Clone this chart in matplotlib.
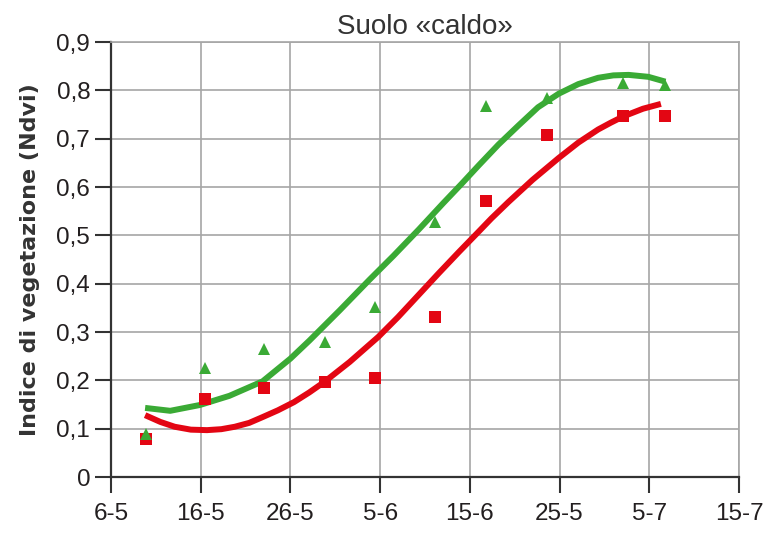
import matplotlib.pyplot as plt
from matplotlib.ticker import FuncFormatter

# giorni dal 6 maggio
x_tick_labels = ['6-5', '16-5', '26-5', '5-6', '15-6', '25-5', '5-7', '15-7']

day_pts = [3.9, 10.5, 17.1, 23.8, 29.4, 36.1, 41.8, 48.6, 57.1, 61.8]
green_pts = [0.090, 0.226, 0.265, 0.280, 0.352, 0.528, 0.768, 0.785, 0.816, 0.812]
red_pts = [0.079, 0.161, 0.184, 0.197, 0.205, 0.331, 0.571, 0.708, 0.747, 0.747]

# trend lines
green_curve_x = [3.8, 6.6, 9.9, 13.2, 16.9, 20.0, 22.1, 25.5, 28.8, 31.5, 34.3, 37.0,
                 39.1, 41.0, 43.2, 45.4, 47.6, 49.9, 52.1, 54.3, 56.0, 57.7, 59.9, 61.8]
green_curve_y = [0.143, 0.137, 0.149, 0.168, 0.198, 0.245, 0.282, 0.345, 0.408, 0.458,
                 0.512, 0.566, 0.607, 0.645, 0.688, 0.727, 0.765, 0.793, 0.813, 0.826,
                 0.831, 0.832, 0.828, 0.818]
red_curve_x = [3.8, 5.5, 7.1, 8.9, 10.7, 12.3, 13.8, 15.4, 16.9, 18.6, 20.4, 22.1, 23.8,
               26.6, 29.8, 32.0, 34.3, 36.5, 38.8, 41.0, 42.4, 44.3, 47.0, 49.9, 52.1,
               54.3, 55.7, 57.1, 59.3, 61.3]
red_curve_y = [0.128, 0.114, 0.104, 0.098, 0.097, 0.099, 0.104, 0.112, 0.124, 0.138,
               0.155, 0.175, 0.197, 0.238, 0.290, 0.331, 0.377, 0.421, 0.466, 0.508,
               0.535, 0.569, 0.615, 0.660, 0.692, 0.719, 0.733, 0.746, 0.762, 0.772]

green = '#3aaa35'
red = '#e30613'
font = ['Liberation Sans', 'DejaVu Sans']

fig = plt.figure(figsize=(7.72, 5.34), dpi=100)
ax = fig.add_axes([0.1438, 0.1067, 0.8134, 0.8146])

ax.plot(green_curve_x, green_curve_y, color=green, lw=4.3, solid_capstyle='butt', zorder=3)
ax.plot(red_curve_x, red_curve_y, color=red, lw=4.3, solid_capstyle='butt', zorder=3)
ax.plot(day_pts, red_pts, 's', color=red, ms=8.5, mew=0, zorder=4)
ax.plot(day_pts, green_pts, '^', color=green, ms=8, mew=0, zorder=5)

ax.set_xlim(0, 70)
ax.set_ylim(0, 0.9)
ax.set_xticks(range(0, 71, 10))
ax.set_xticklabels(x_tick_labels)
ax.set_yticks([i / 10 for i in range(10)])
ax.yaxis.set_major_formatter(FuncFormatter(lambda v, p: '0' if v == 0 else f'{v:.1f}'.replace('.', ',')))

ax.grid(True, color='#a6a6a6', lw=1.2, zorder=0)
ax.set_axisbelow(True)
for s in ['top', 'right']:
    ax.spines[s].set_color('#a6a6a6')
    ax.spines[s].set_linewidth(1.2)
for s in ['left', 'bottom']:
    ax.spines[s].set_color('#333333')
    ax.spines[s].set_linewidth(1.6)

ax.tick_params(axis='both', direction='out', length=11.5, width=1.5, color='#333333',
               labelcolor='#231f20', labelsize=17.5)
ax.tick_params(axis='y', pad=3.5)
ax.tick_params(axis='x', pad=7)
for lab in ax.get_xticklabels() + ax.get_yticklabels():
    lab.set_family(font)

ax.set_ylabel('Indice di vegetazione (Ndvi)', fontsize=16, fontweight='bold',
              color='#333333', labelpad=12)
ax.set_title('Suolo «caldo»', fontsize=20, color='#333333', family=font, pad=6)

fig.savefig('out.png', dpi=100)
